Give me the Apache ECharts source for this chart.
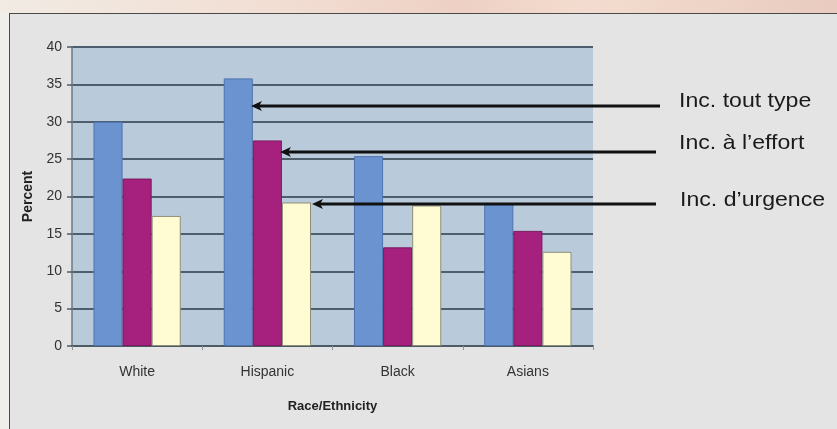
<!DOCTYPE html>
<html>
<head>
<meta charset="utf-8">
<script src="https://cdn.jsdelivr.net/npm/echarts@6/dist/echarts.min.js"></script>
<style>
  html, body { margin: 0; padding: 0; }
  body {
    width: 837px; height: 429px; overflow: hidden; position: relative;
    background: linear-gradient(90deg, #f1ebe4 0%, #f2ddd2 35%, #eed0c4 55%, #f3dccf 70%, #e9cbbf 100%);
  }
  #panel {
    position: absolute; left: 9px; top: 13px; right: 0; bottom: 0;
    background: #e4e4e4;
    border-left: 1px solid #4a4a4a; border-top: 1px solid #4a4a4a;
  }
  #leftStrip { position: absolute; left: 0; top: 13px; width: 9px; bottom: 0; background: #f0eeeb; }
  #chart { position: absolute; left: 0; top: 0; width: 837px; height: 429px; }
</style>
</head>
<body>
<div id="leftStrip"></div>
<div id="panel"></div>
<div id="chart"></div>
<script>
const categories = ['White', 'Hispanic', 'Black', 'Asians'];
const toutType = [30, 35.8, 25.4, 19.0];
const effort = [22.4, 27.5, 13.2, 15.4];
const urgence = [17.4, 19.2, 18.8, 12.6];
const labels = ['Inc. tout type', 'Inc. à l\u2019effort', 'Inc. d\u2019urgence'];

const myChart = echarts.init(document.getElementById('chart'));

// arrow from the label side to a bar edge
function arrow(x1, x2, y) {
    return [
        { type: 'line', shape: { x1: x1, y1: y, x2: x2 + 8, y2: y }, style: { stroke: '#111', lineWidth: 3 }, z: 100 },
        { type: 'polygon', shape: { points: [[x2, y], [x2 + 11, y - 5], [x2 + 8, y], [x2 + 11, y + 5]] }, style: { fill: '#111' }, z: 100 }
    ];
}

function labelText(x, y, text) {
    return {
        type: 'text', x: x, y: y, z: 100, scaleX: 1.1,
        style: { text: text, fill: '#1a1a1a', font: '21px "Liberation Sans", Arial, sans-serif', textVerticalAlign: 'middle' }
    };
}

const option = {
    backgroundColor: 'transparent',
    animation: false,
    grid: {
        left: 72, right: 244, top: 47, bottom: 83,
        show: true, backgroundColor: '#b9cadb', borderWidth: 0
    },
    xAxis: {
        type: 'category',
        data: categories,
        name: 'Race/Ethnicity',
        nameLocation: 'middle',
        nameGap: 54,
        nameTextStyle: { color: '#222', fontSize: 13, fontWeight: 'bold', fontFamily: 'Liberation Sans' },
        axisLine: { lineStyle: { color: '#4d5b66', width: 2 } },
        axisTick: { show: true, length: 4, lineStyle: { color: '#8a949c' } },
        axisLabel: { color: '#333', fontSize: 14, margin: 19, fontFamily: 'Liberation Sans' }
    },
    yAxis: {
        type: 'value',
        min: 0, max: 40, interval: 5,
        name: 'Percent',
        nameLocation: 'middle',
        nameRotate: 90,
        nameGap: 37,
        nameTextStyle: { color: '#222', fontSize: 14, fontWeight: 'bold', fontFamily: 'Liberation Sans' },
        axisLine: { show: true, lineStyle: { color: '#6a7884', width: 1.5 } },
        axisTick: { show: true, length: 5, lineStyle: { color: '#4d5b66', width: 1.5 } },
        axisLabel: { color: '#333', fontSize: 14, margin: 10, fontFamily: 'Liberation Sans' },
        splitLine: { lineStyle: { color: '#4e5e6c', width: 2 } }
    },
    series: [
        { name: labels[0], type: 'bar', data: toutType, barGap: '0%', barCategoryGap: '33%',
          itemStyle: { color: '#6a93d0', borderColor: '#4f74ad', borderWidth: 1 } },
        { name: labels[1], type: 'bar', data: effort,
          itemStyle: { color: '#a5217d', borderColor: '#7d1860', borderWidth: 1 } },
        { name: labels[2], type: 'bar', data: urgence,
          itemStyle: { color: '#fffbd2', borderColor: '#8d8f78', borderWidth: 1 } }
    ],
    graphic: [].concat(
        arrow(660, 251, 106),
        arrow(656, 280, 152),
        arrow(656, 312, 204),
        [labelText(679, 101, labels[0]), labelText(679, 143, labels[1]), labelText(680, 200, labels[2])]
    )
};

myChart.setOption(option);
</script>
</body>
</html>
